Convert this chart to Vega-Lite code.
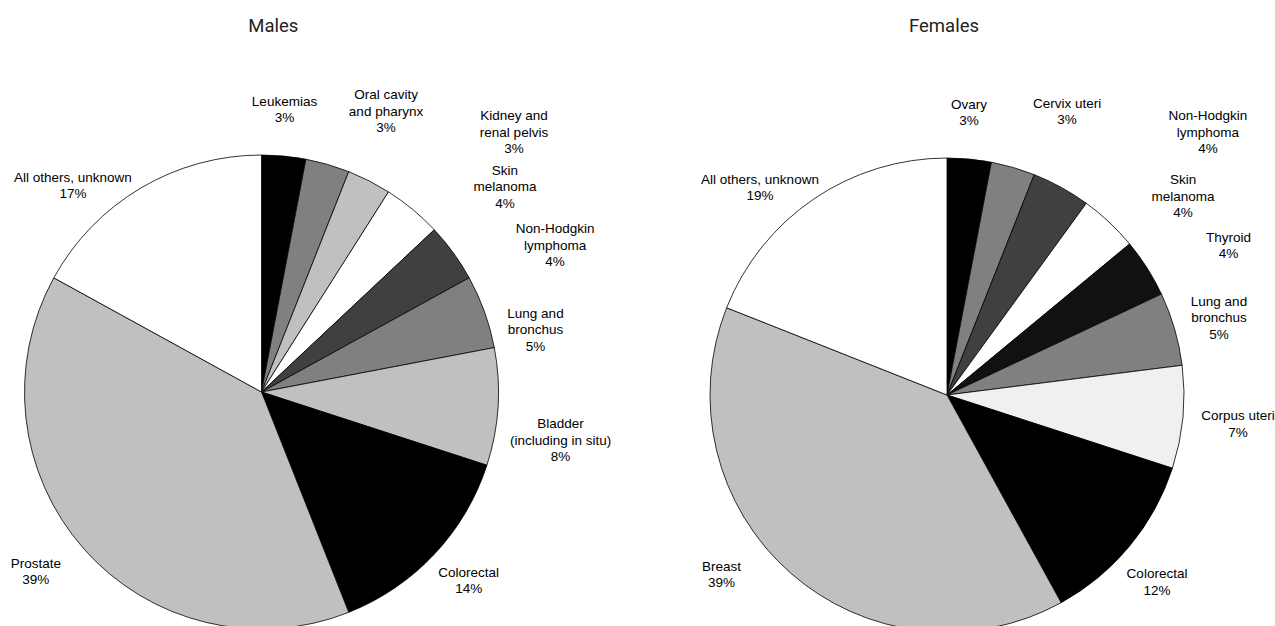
{
  "$schema": "https://vega.github.io/schema/vega-lite/v6.json",
  "background": "white",
  "padding": {"left": 0, "top": 16, "right": 0, "bottom": 0},
  "spacing": 162.5,
  "bounds": "flush",
  "config": {
    "view": {"stroke": null},
    "text": {"font": "Liberation Sans", "fontSize": 13.5, "lineHeight": 16.5, "lineBreak": "\n", "color": "#000", "align": "center", "baseline": "middle"},
    "arc": {"stroke": "#000", "strokeWidth": 0.8},
    "title": {"font": "Roboto", "fontSize": 18.5, "fontWeight": "normal", "color": "#222", "offset": 10}
  },
  "datasets": {
    "sites": [
      {"sex": "Males", "site": "Leukemias", "pct": 3, "label": "Leukemias\n3%"},
      {"sex": "Males", "site": "Oral cavity and pharynx", "pct": 3, "label": "Oral cavity\nand pharynx\n3%"},
      {"sex": "Males", "site": "Kidney and renal pelvis", "pct": 3, "label": "Kidney and\nrenal pelvis\n3%"},
      {"sex": "Males", "site": "Skin melanoma", "pct": 4, "label": "Skin\nmelanoma\n4%"},
      {"sex": "Males", "site": "Non-Hodgkin lymphoma", "pct": 4, "label": "Non-Hodgkin\nlymphoma\n4%"},
      {"sex": "Males", "site": "Lung and bronchus", "pct": 5, "label": "Lung and\nbronchus\n5%"},
      {"sex": "Males", "site": "Bladder (including in situ)", "pct": 8, "label": "Bladder\n(including in situ)\n8%"},
      {"sex": "Males", "site": "Colorectal", "pct": 14, "label": "Colorectal\n14%"},
      {"sex": "Males", "site": "Prostate", "pct": 39, "label": "Prostate\n39%"},
      {"sex": "Males", "site": "All others, unknown", "pct": 17, "label": "All others, unknown\n17%"},
      {"sex": "Females", "site": "Ovary", "pct": 3, "label": "Ovary\n3%"},
      {"sex": "Females", "site": "Cervix uteri", "pct": 3, "label": "Cervix uteri\n3%"},
      {"sex": "Females", "site": "Non-Hodgkin lymphoma", "pct": 4, "label": "Non-Hodgkin\nlymphoma\n4%"},
      {"sex": "Females", "site": "Skin melanoma", "pct": 4, "label": "Skin\nmelanoma\n4%"},
      {"sex": "Females", "site": "Thyroid", "pct": 4, "label": "Thyroid\n4%"},
      {"sex": "Females", "site": "Lung and bronchus", "pct": 5, "label": "Lung and\nbronchus\n5%"},
      {"sex": "Females", "site": "Corpus uteri", "pct": 7, "label": "Corpus uteri\n7%"},
      {"sex": "Females", "site": "Colorectal", "pct": 12, "label": "Colorectal\n12%"},
      {"sex": "Females", "site": "Breast", "pct": 39, "label": "Breast\n39%"},
      {"sex": "Females", "site": "All others, unknown", "pct": 19, "label": "All others, unknown\n19%"}
    ]
  },
  "resolve": {"scale": {"color": "independent", "theta": "independent"}},
  "hconcat": [
    {
      "width": 523,
      "height": 694,
      "title": {"text": "Males", "dx": 11.8},
      "data": {"name": "sites"},
      "transform": [
        {"filter": "datum.sex === 'Males'"},
        {"window": [{"op": "row_number", "as": "ord"}]}
      ],
      "encoding": {
        "theta": {"field": "pct", "type": "quantitative", "stack": true},
        "order": {"field": "ord", "type": "quantitative"}
      },
      "layer": [
        {
          "mark": {"type": "arc", "outerRadius": 237},
          "encoding": {
            "color": {
              "field": "site", "type": "nominal", "legend": null,
              "scale": {
                "domain": ["Leukemias", "Oral cavity and pharynx", "Kidney and renal pelvis", "Skin melanoma", "Non-Hodgkin lymphoma", "Lung and bronchus", "Bladder (including in situ)", "Colorectal", "Prostate", "All others, unknown"],
                "range": ["#000000", "#808080", "#c0c0c0", "#ffffff", "#404040", "#808080", "#c0c0c0", "#000000", "#c0c0c0", "#ffffff"]
              }
            }
          }
        },
        {"mark": {"type": "text", "radius": 237, "dx": 0.7, "dy": -54.4}, "encoding": {"detail": {"field": "site"}, "text": {"condition": {"test": "datum.site === 'Leukemias'", "field": "label"}, "value": ""}}},
        {"mark": {"type": "text", "radius": 237, "dx": 58.4, "dy": -69.4}, "encoding": {"detail": {"field": "site"}, "text": {"condition": {"test": "datum.site === 'Oral cavity and pharynx'", "field": "label"}, "value": ""}}},
        {"mark": {"type": "text", "radius": 237, "dx": 144.9, "dy": -64.8}, "encoding": {"detail": {"field": "site"}, "text": {"condition": {"test": "datum.site === 'Kidney and renal pelvis'", "field": "label"}, "value": ""}}},
        {"mark": {"type": "text", "radius": 237, "dx": 92.4, "dy": -38.4}, "encoding": {"detail": {"field": "site"}, "text": {"condition": {"test": "datum.site === 'Skin melanoma'", "field": "label"}, "value": ""}}},
        {"mark": {"type": "text", "radius": 237, "dx": 101.8, "dy": -23.4}, "encoding": {"detail": {"field": "site"}, "text": {"condition": {"test": "datum.site === 'Non-Hodgkin lymphoma'", "field": "label"}, "value": ""}}},
        {"mark": {"type": "text", "radius": 237, "dx": 51, "dy": 2}, "encoding": {"detail": {"field": "site"}, "text": {"condition": {"test": "datum.site === 'Lung and bronchus'", "field": "label"}, "value": ""}}},
        {"mark": {"type": "text", "radius": 237, "dx": 62.5, "dy": 17.4}, "encoding": {"detail": {"field": "site"}, "text": {"condition": {"test": "datum.site === 'Bladder (including in situ)'", "field": "label"}, "value": ""}}},
        {"mark": {"type": "text", "radius": 237, "dx": 34.4, "dy": 18.5}, "encoding": {"detail": {"field": "site"}, "text": {"condition": {"test": "datum.site === 'Colorectal'", "field": "label"}, "value": ""}}},
        {"mark": {"type": "text", "radius": 237, "dx": -47.9, "dy": 15}, "encoding": {"detail": {"field": "site"}, "text": {"condition": {"test": "datum.site === 'Prostate'", "field": "label"}, "value": ""}}},
        {"mark": {"type": "text", "radius": 237, "dx": -67.9, "dy": -10.3}, "encoding": {"detail": {"field": "site"}, "text": {"condition": {"test": "datum.site === 'All others, unknown'", "field": "label"}, "value": ""}}}
      ]
    },
    {
      "width": 523,
      "height": 700,
      "title": {"text": "Females", "dx": -3},
      "data": {"name": "sites"},
      "transform": [
        {"filter": "datum.sex === 'Females'"},
        {"window": [{"op": "row_number", "as": "ord"}]}
      ],
      "encoding": {
        "theta": {"field": "pct", "type": "quantitative", "stack": true},
        "order": {"field": "ord", "type": "quantitative"}
      },
      "layer": [
        {
          "mark": {"type": "arc", "outerRadius": 237},
          "encoding": {
            "color": {
              "field": "site", "type": "nominal", "legend": null,
              "scale": {
                "domain": ["Ovary", "Cervix uteri", "Non-Hodgkin lymphoma", "Skin melanoma", "Thyroid", "Lung and bronchus", "Corpus uteri", "Colorectal", "Breast", "All others, unknown"],
                "range": ["#000000", "#808080", "#404040", "#ffffff", "#111111", "#808080", "#f0f0f0", "#000000", "#c0c0c0", "#ffffff"]
              }
            }
          }
        },
        {"mark": {"type": "text", "radius": 237, "dx": -0.3, "dy": -54.1}, "encoding": {"detail": {"field": "site"}, "text": {"condition": {"test": "datum.site === 'Ovary'", "field": "label"}, "value": ""}}},
        {"mark": {"type": "text", "radius": 237, "dx": 53.9, "dy": -63.7}, "encoding": {"detail": {"field": "site"}, "text": {"condition": {"test": "datum.site === 'Cervix uteri'", "field": "label"}, "value": ""}}},
        {"mark": {"type": "text", "radius": 237, "dx": 146.8, "dy": -71.3}, "encoding": {"detail": {"field": "site"}, "text": {"condition": {"test": "datum.site === 'Non-Hodgkin lymphoma'", "field": "label"}, "value": ""}}},
        {"mark": {"type": "text", "radius": 237, "dx": 73.8, "dy": -42.2}, "encoding": {"detail": {"field": "site"}, "text": {"condition": {"test": "datum.site === 'Skin melanoma'", "field": "label"}, "value": ""}}},
        {"mark": {"type": "text", "radius": 237, "dx": 81.4, "dy": -30.3}, "encoding": {"detail": {"field": "site"}, "text": {"condition": {"test": "datum.site === 'Thyroid'", "field": "label"}, "value": ""}}},
        {"mark": {"type": "text", "radius": 237, "dx": 44.4, "dy": -27.2}, "encoding": {"detail": {"field": "site"}, "text": {"condition": {"test": "datum.site === 'Lung and bronchus'", "field": "label"}, "value": ""}}},
        {"mark": {"type": "text", "radius": 237, "dx": 55, "dy": -1.3}, "encoding": {"detail": {"field": "site"}, "text": {"condition": {"test": "datum.site === 'Corpus uteri'", "field": "label"}, "value": ""}}},
        {"mark": {"type": "text", "radius": 237, "dx": 27.4, "dy": 28.2}, "encoding": {"detail": {"field": "site"}, "text": {"condition": {"test": "datum.site === 'Colorectal'", "field": "label"}, "value": ""}}},
        {"mark": {"type": "text", "radius": 237, "dx": -68.8, "dy": -6.1}, "encoding": {"detail": {"field": "site"}, "text": {"condition": {"test": "datum.site === 'Breast'", "field": "label"}, "value": ""}}},
        {"mark": {"type": "text", "radius": 237, "dx": -53.8, "dy": -19}, "encoding": {"detail": {"field": "site"}, "text": {"condition": {"test": "datum.site === 'All others, unknown'", "field": "label"}, "value": ""}}}
      ]
    }
  ]
}
